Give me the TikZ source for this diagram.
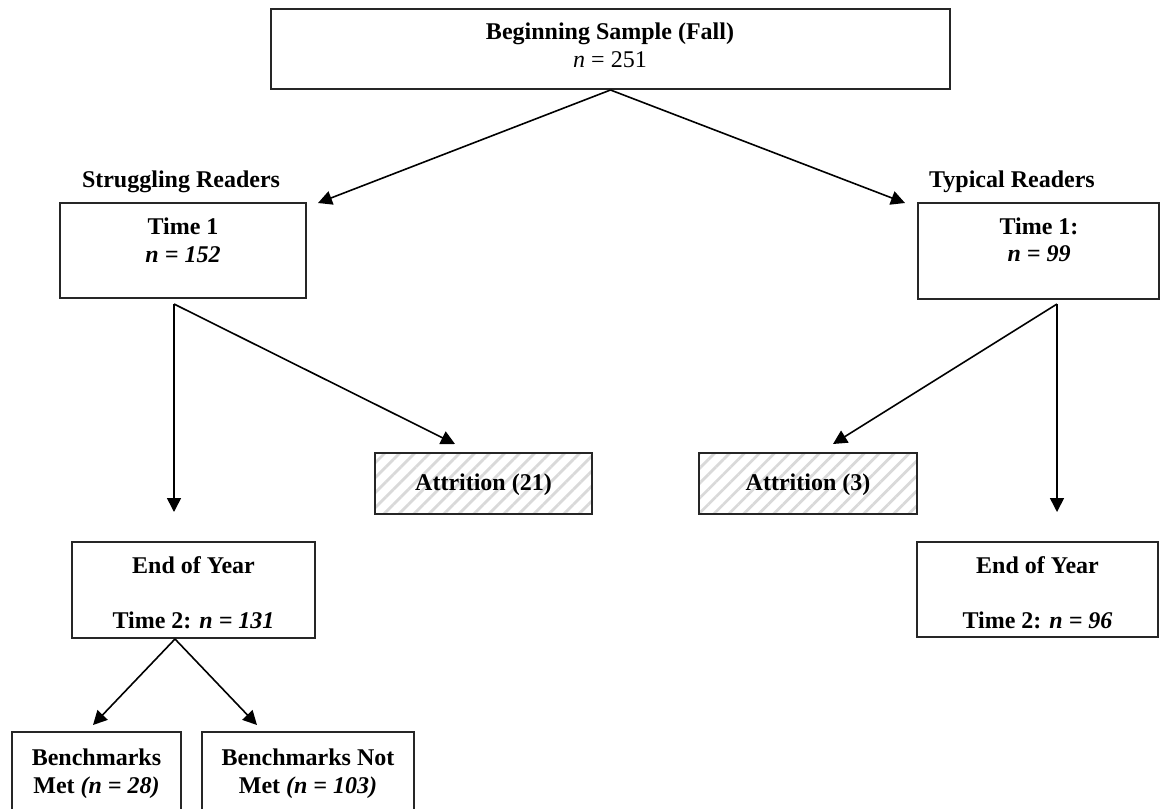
\documentclass[tikz,border=0pt]{standalone}
\usepackage{fontspec}
\setmainfont{Liberation Serif}
\usetikzlibrary{arrows.meta,patterns.meta,fit}
\begin{document}
\begin{tikzpicture}[x=0.5pt,y=-0.5pt,
  box/.style={draw=black!85,line width=1pt,inner sep=0pt},
  hatchbox/.style={box,pattern={Lines[angle=45,distance=5.3pt,line width=1.4pt]},pattern color=black!15},
  lbl/.style={anchor=base,inner sep=0pt,font=\fontsize{12}{14}\selectfont\bfseries},
  plain/.style={anchor=base,inner sep=0pt,font=\fontsize{12}{14}\selectfont},
  arr/.style={line width=0.8pt,-{Triangle[length=7pt,width=7pt]}}]
\useasboundingbox (0,0) rectangle (1160,808);

% boxes
\node[box,fit={(271,9)(950,89)}] (top) {};
\node[box,fit={(60,203)(306,298)}] (sr1) {};
\node[box,fit={(918,203)(1159,299)}] (tr1) {};
\node[hatchbox,fit={(375,453)(592,514)}] (att21) {};
\node[hatchbox,fit={(699,453)(917,514)}] (att3) {};
\node[box,fit={(72,542)(315,638)}] (sreoy) {};
\node[box,fit={(917,542)(1158,637)}] (treoy) {};
\node[box,fit={(12,732)(181,814)}] (met) {};
\node[box,fit={(202,732)(414,814)}] (notmet) {};

% texts
\node[lbl] (topa) at (610,40) {Beginning Sample (Fall)};
\node[plain] (topb) at (610,68) {\textit{n} = 251};
\node[lbl] (srlab) at (181,187) {Struggling Readers};
\node[lbl] (trlab) at (1012,187) {Typical Readers};
\node[lbl] (sr1a) at (183,234) {Time 1};
\node[lbl] (sr1b) at (183,262) {\itshape n = 152};
\node[lbl] (tr1a) at (1039,234) {Time 1:};
\node[lbl] (tr1b) at (1039,261) {\itshape n = 99};
\node[lbl] (att21t) at (483.5,490) {Attrition (21)};
\node[lbl] (att3t) at (808,490) {Attrition (3)};
\node[lbl] (sreoya) at (193.5,573) {End of Year};
\node[lbl] (sreoyb) at (193.5,628) {Time 2: \itshape n = 131};
\node[lbl] (treoya) at (1037.5,573) {End of Year};
\node[lbl] (treoyb) at (1037.5,628) {Time 2: \itshape n = 96};
\node[lbl] (meta) at (96.5,765) {Benchmarks};
\node[lbl] (metb) at (96.5,793) {Met \itshape (n = 28)};
\node[lbl] (notmeta) at (308,765) {Benchmarks Not};
\node[lbl] (notmetb) at (308,793) {Met \itshape (n = 103)};

% connector ends
\coordinate (srstart) at (174,304);
\coordinate (trstart) at (1057,304);
\coordinate (eoystart) at (175,639);
\coordinate (tipsr) at (318,203);
\coordinate (tiptr) at (905,203);
\coordinate (tipatt21) at (455,444);
\coordinate (tipatt3) at (833,444);
\coordinate (tipsreoy) at (174,512);
\coordinate (tiptreoy) at (1057,512);
\coordinate (tipmet) at (93,725);
\coordinate (tipnotmet) at (257,725);

\draw[arr] (top.south) -- (tipsr);
\draw[arr] (top.south) -- (tiptr);
\draw[arr] (srstart) -- (tipsreoy);
\draw[arr] (srstart) -- (tipatt21);
\draw[arr] (trstart) -- (tiptreoy);
\draw[arr] (trstart) -- (tipatt3);
\draw[arr] (eoystart) -- (tipmet);
\draw[arr] (eoystart) -- (tipnotmet);
\end{tikzpicture}
\end{document}
